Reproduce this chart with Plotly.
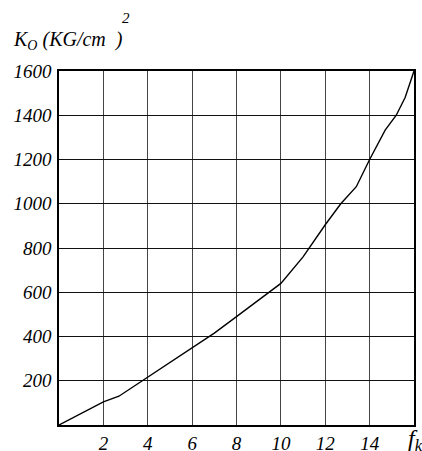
import plotly.graph_objects as go

f_vals = [0, 1, 2, 2.7, 3, 4, 5, 6, 7, 8, 9, 10, 11, 12, 12.7, 13.4, 14, 14.7, 15.2, 15.6, 16]
k_vals = [0, 54, 105, 130, 150, 215, 280, 347, 415, 490, 565, 640, 760, 905, 1000, 1077, 1200, 1333, 1400, 1480, 1600]

x_ticks = [2, 4, 6, 8, 10, 12, 14]
y_ticks = [200, 400, 600, 800, 1000, 1200, 1400, 1600]

FONT = "Liberation Serif, Times New Roman, Times, serif"

fig = go.Figure()
fig.add_trace(go.Scatter(x=f_vals, y=k_vals, mode="lines",
                         line=dict(color="black", width=1.4), showlegend=False,
                         hoverinfo="skip"))

tick_font = dict(family=FONT, size=19, color="black", style="italic")

fig.update_layout(
    width=422, height=451,
    margin=dict(l=59, r=8, t=71, b=26),
    paper_bgcolor="white", plot_bgcolor="white",
    font=dict(family=FONT, color="black", style="italic"),
    xaxis=dict(range=[0, 16], tickvals=x_ticks, ticktext=[str(v) for v in x_ticks],
               showgrid=True, gridcolor="#444", gridwidth=1,
               showline=True, linecolor="black", linewidth=1.5, mirror=True,
               zeroline=False, ticks="", ticklen=0, tickfont=tick_font,
               automargin=False),
    yaxis=dict(range=[0, 1600], tickvals=y_ticks, ticktext=[str(v) for v in y_ticks],
               showgrid=True, gridcolor="#111", gridwidth=1,
               showline=True, linecolor="black", linewidth=1.5, mirror=True,
               zeroline=False, ticks="", ticklen=0, tickfont=tick_font,
               ticklabelstandoff=2, automargin=False),
    annotations=[
        dict(text="K<sub>O</sub> (KG/cm  )", xref="paper", yref="paper",
             x=-48/355, y=1 + 31/354, xanchor="left", yanchor="middle", showarrow=False,
             font=dict(family=FONT, size=20, color="black", style="italic")),
        dict(text="2", xref="paper", yref="paper",
             x=(126 - 59)/355, y=1 + 53/354, xanchor="center", yanchor="middle", showarrow=False,
             font=dict(family=FONT, size=15, color="black", style="italic")),
        dict(text="f<sub>k</sub>", xref="paper", yref="paper",
             x=(406 - 59)/355, y=-15/354, xanchor="left", yanchor="middle", showarrow=False,
             font=dict(family=FONT, size=24, color="black", style="italic")),
    ],
)

fig.write_html("out.html", config={"displayModeBar": False},
               post_script="document.body.style.margin='0';")
